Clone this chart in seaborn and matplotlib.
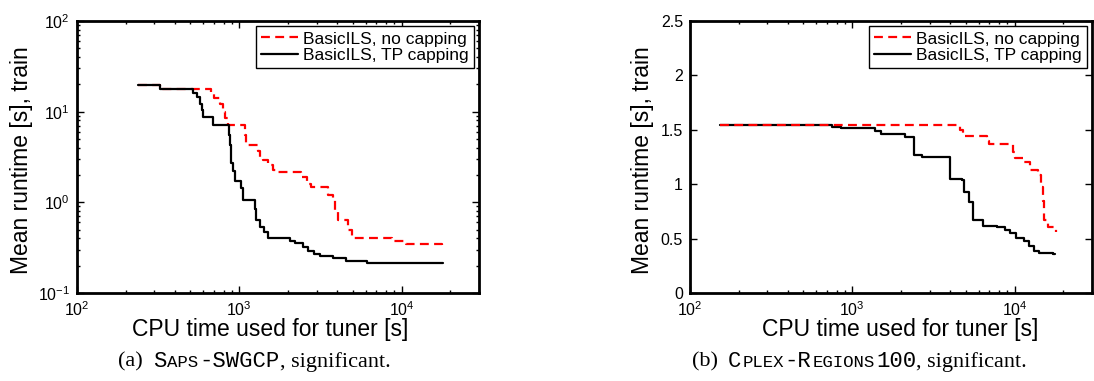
import matplotlib
matplotlib.use("Agg")
import matplotlib.pyplot as plt
import seaborn as sns
import pandas as pd

# ---- data ----
labels = ["BasicILS, no capping", "BasicILS, TP capping"]

# (a) SAPS-SWGCP, log-scale runtime
saps_t_tp = [238, 324, 519, 545, 570, 590, 599, 690, 866, 875, 885, 893, 915, 937,
             1030, 1057, 1247, 1260, 1337, 1420, 1507, 2048, 2198, 2477, 2655, 2900,
             3133, 3790, 4575, 6080, 18000]
saps_v_tp = [19.6, 18.0, 16.0, 14.6, 12.3, 10.5, 8.8, 7.1, 5.5, 4.3, 3.4, 2.7, 2.2, 1.7,
             1.43, 1.06, 0.85, 0.64, 0.54, 0.47, 0.40, 0.375, 0.355, 0.32, 0.288, 0.27,
             0.253, 0.243, 0.223, 0.214, 0.214]
saps_t_nc = [238, 324, 673, 700, 759, 790, 813, 852, 1082, 1107, 1306, 1350, 1402, 1507,
             1620, 1735, 2414, 2600, 2786, 3530, 3790, 3900, 4070, 4690, 4920, 8680,
             10700, 17660]
saps_v_nc = [19.6, 18.0, 16.0, 14.0, 12.0, 10.0, 8.5, 7.1, 5.5, 4.3, 3.7, 3.2, 2.9, 2.6,
             2.3, 2.18, 1.9, 1.6, 1.49, 1.2, 1.06, 0.8, 0.64, 0.5, 0.40, 0.37,
             0.345, 0.34]

# (b) CPLEX-REGIONS100, linear runtime
cplex_t_tp = [152, 753, 848, 1390, 1493, 2123, 2413, 2690, 4010, 4730, 4850, 5270, 5580,
              6430, 7770, 8720, 9330, 10250, 11470, 12300, 13200, 14150, 17260, 17800]
cplex_v_tp = [1.54, 1.53, 1.52, 1.49, 1.46, 1.436, 1.27, 1.25, 1.05, 1.04, 0.93, 0.84, 0.67,
              0.62, 0.61, 0.58, 0.55, 0.51, 0.48, 0.43, 0.39, 0.37, 0.36, 0.355]
cplex_t_nc = [152, 4620, 4840, 6730, 6950, 9770, 10000, 11500, 12400, 13960, 14640, 14900,
              15140, 16110, 17950]
cplex_v_nc = [1.54, 1.50, 1.44, 1.40, 1.365, 1.30, 1.245, 1.2, 1.13, 1.08, 0.976, 0.85,
              0.67, 0.61, 0.56]

cplex_yticks = [0, 0.5, 1, 1.5, 2, 2.5]
cplex_yticklabels = ["0", "0.5", "1", "1.5", "2", "2.5"]

sns.set_style("ticks", {"axes.edgecolor": "black", "xtick.color": "black",
                        "ytick.color": "black", "text.color": "black",
                        "axes.labelcolor": "black"})
plt.rcParams["font.family"] = ["Liberation Sans", "DejaVu Sans"]
plt.rcParams["mathtext.default"] = "regular"

W, H = 1094, 381
fig = plt.figure(figsize=(W / 100, H / 100), dpi=100)
ax_a = fig.add_axes([77 / W, 88 / H, 402 / W, 272 / H])
ax_b = fig.add_axes([690 / W, 88 / H, 402 / W, 272 / H])

styles = {
    labels[0]: dict(color="#ff0000", dashes=(4, 2.4)),
    labels[1]: dict(color="black"),
}


def draw(ax, t_nc, v_nc, t_tp, v_tp, red_on_top):
    series = [(labels[1], t_tp, v_tp), (labels[0], t_nc, v_nc)]
    if not red_on_top:
        series = series[::-1]
    handles = {}
    for name, t, v in series:
        df = pd.DataFrame({"t": t, "v": v})
        sns.lineplot(data=df, x="t", y="v", ax=ax, estimator=None, sort=False,
                     drawstyle="steps-post", lw=1.6, **styles[name])
        handles[name] = ax.lines[-1]
    leg = ax.legend([handles[l] for l in labels], labels, loc="upper right",
                    fontsize=12.5, frameon=True, fancybox=False, framealpha=1,
                    edgecolor="black", borderpad=0.3, labelspacing=0.05,
                    handlelength=2.1, handletextpad=0.3, borderaxespad=0.3)
    leg.get_frame().set_linewidth(1.0)
    for txt in leg.get_texts():
        txt.set_color("black")
    ax.set_xscale("log")
    ax.set_xlim(100, 3e4)
    ax.tick_params(which="both", direction="in", top=True, right=True,
                   labelsize=11.5, width=1.0, pad=5, colors="black")
    ax.tick_params(which="major", length=5)
    ax.tick_params(which="minor", length=2.5)
    for s in ax.spines.values():
        s.set_linewidth(2.0)
        s.set_color("black")
    ax.set_xlabel("CPU time used for tuner [s]", fontsize=16.5)
    ax.set_ylabel("Mean runtime [s], train", fontsize=16.5)
    ax.xaxis.label.set_va("center")
    ax.yaxis.label.set_va("center")


draw(ax_a, saps_t_nc, saps_v_nc, saps_t_tp, saps_v_tp, red_on_top=False)
ax_a.set_yscale("log")
ax_a.set_ylim(0.1, 100)
ax_a.xaxis.set_label_coords((270 - 77) / 402, -0.136)
ax_a.yaxis.set_label_coords(-0.137, 0.49)

draw(ax_b, cplex_t_nc, cplex_v_nc, cplex_t_tp, cplex_v_tp, red_on_top=True)
ax_b.set_ylim(0, 2.5)
ax_b.set_yticks(cplex_yticks)
ax_b.set_yticklabels(cplex_yticklabels)
ax_b.xaxis.set_label_coords((900 - 690) / 402, -0.136)
ax_b.yaxis.set_label_coords(-0.119, 0.49)

# captions: serif text with typewriter small caps pieces
fig.canvas.draw()
renderer = fig.canvas.get_renderer()


def caption(x0, parts, y=0.0375):
    x = x0
    for s, fam, size, gap in parts:
        t = fig.text(x / W, y, s, family=fam, fontsize=size, va="baseline", ha="left",
                     color="black")
        x = t.get_window_extent(renderer).x1 + gap


serif = ["Liberation Serif", "DejaVu Serif"]
mono = ["Liberation Mono", "DejaVu Sans Mono"]
caption(118, [("(a)", serif, 16, 10), ("S", mono, 16, 1), ("APS", mono, 12.5, 1),
              ("-SWGCP", mono, 16, 0), (", significant.", serif, 16, 0)])
caption(692, [("(b)", serif, 16, 10), ("C", mono, 16, 1), ("PLEX", mono, 12.5, 1),
              ("-R", mono, 16, 1), ("EGIONS", mono, 12.5, 1), ("100", mono, 16, 0),
              (", significant.", serif, 16, 0)])

fig.savefig("out.png", dpi=100)
plt.close(fig)
